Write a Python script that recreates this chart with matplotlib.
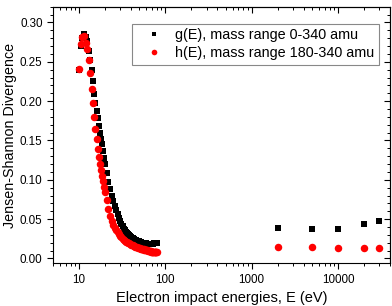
import matplotlib.pyplot as plt
import numpy as np

plt.rcParams['font.family'] = ['Liberation Sans', 'DejaVu Sans']

# electron energies (eV), low-energy scan
energy_low = [10, 10.5, 11, 11.5, 12, 12.5, 13, 13.5, 14, 14.5, 15, 15.5, 16, 16.5,
              17, 17.5, 18, 18.5, 19, 19.5, 20,
              21, 22, 23, 24, 25, 26, 27, 28, 29, 30, 31, 32, 33, 34, 35, 36, 37, 38, 39, 40,
              41, 42, 43, 44, 45, 46, 47, 48, 49, 50, 51, 52, 53, 54, 55, 56, 57, 58, 59, 60,
              61, 62, 63, 64, 65, 66, 67, 68, 69, 70, 71, 72, 73, 74, 75, 76, 77, 78, 79, 80]

# g(E), mass range 0-340 amu
g_low = [0.240, 0.270, 0.280, 0.285, 0.282, 0.276, 0.264, 0.252, 0.240, 0.226, 0.209,
         0.197, 0.188, 0.178, 0.168, 0.160, 0.152, 0.145, 0.136, 0.128, 0.120,
         0.108, 0.097, 0.088, 0.080, 0.073, 0.067, 0.061, 0.056, 0.051, 0.047,
         0.044, 0.041, 0.038, 0.036, 0.034, 0.0325, 0.031, 0.0297, 0.0285, 0.0275,
         0.0266, 0.0258, 0.0250, 0.0243, 0.0237, 0.0231, 0.0226, 0.0221, 0.0217, 0.0213,
         0.0209, 0.0206, 0.0203, 0.0200, 0.0198, 0.0196, 0.0194, 0.0192, 0.0191, 0.0190,
         0.0189, 0.0188, 0.0187, 0.0187, 0.0186, 0.0186, 0.0186, 0.0186, 0.0187, 0.0187,
         0.0188, 0.0188, 0.0189, 0.0190, 0.0191, 0.0192, 0.0193, 0.0194, 0.0195, 0.0196]

# h(E), mass range 180-340 amu
h_low = [0.241, 0.272, 0.281, 0.283, 0.274, 0.266, 0.252, 0.236, 0.216, 0.197, 0.180,
         0.164, 0.152, 0.139, 0.129, 0.120, 0.113, 0.105, 0.098, 0.091, 0.085,
         0.074, 0.063, 0.054, 0.048, 0.043, 0.039, 0.036, 0.033, 0.031, 0.029,
         0.027, 0.025, 0.024, 0.0225, 0.0215, 0.0205, 0.0197, 0.0190, 0.0183, 0.0176,
         0.0170, 0.0165, 0.0160, 0.0155, 0.0150, 0.0146, 0.0142, 0.0138, 0.0135, 0.0132,
         0.0129, 0.0126, 0.0123, 0.0120, 0.0117, 0.0114, 0.0112, 0.0110, 0.0108, 0.0106,
         0.0104, 0.0102, 0.0100, 0.0098, 0.0096, 0.0094, 0.0092, 0.0090, 0.0088, 0.0087,
         0.0085, 0.0084, 0.0083, 0.0082, 0.0081, 0.0080, 0.0079, 0.0078, 0.0077, 0.0076]

# high-energy points
energy_high = [2000, 5000, 10000, 20000, 30000]
g_high = [0.039, 0.038, 0.038, 0.044, 0.048]
h_high = [0.014, 0.0145, 0.0135, 0.013, 0.013]

energy = energy_low + energy_high
g_vals = g_low + g_high
h_vals = h_low + h_high

fig = plt.figure(figsize=(3.92, 3.06), dpi=100)
ax = fig.add_axes([0.135, 0.14, 0.86, 0.838])

ax.plot(energy, g_vals, 's', color='black', markersize=4.6, markeredgewidth=0,
        label='g(E), mass range 0-340 amu')
ax.plot(energy, h_vals, 'o', color='#ff0000', markersize=5.4, markeredgewidth=0,
        label='h(E), mass range 180-340 amu')

ax.set_xscale('log')
ax.set_xlim(5, 40000)
ax.set_ylim(-0.006, 0.32)
ax.set_yticks(np.arange(0, 0.31, 0.05))
ax.set_yticks(np.arange(0, 0.321, 0.01), minor=True)
ax.set_xticks([10, 100, 1000, 10000])
ax.set_xticklabels(['10', '100', '1000', '10000'])

ax.tick_params(which='major', direction='out', length=4, width=0.8, labelsize=8.4)
ax.tick_params(which='minor', direction='out', length=2.2, width=0.7)

# mirrored ticks on top/right pointing inward
top = ax.secondary_xaxis('top')
top.set_xticks([10, 100, 1000, 10000])
top.tick_params(which='major', direction='in', length=4, width=0.8, labeltop=False)
top.tick_params(which='minor', direction='in', length=2.2, width=0.7)
right = ax.secondary_yaxis('right')
right.set_yticks(np.arange(0, 0.31, 0.05))
right.set_yticks(np.arange(0, 0.321, 0.01), minor=True)
right.tick_params(which='major', direction='in', length=4, width=0.8, labelright=False)
right.tick_params(which='minor', direction='in', length=2.2, width=0.7)

for sp in ax.spines.values():
    sp.set_linewidth(0.8)

ax.set_xlabel('Electron impact energies, E (eV)', fontsize=10.5, labelpad=4)
ax.set_ylabel('Jensen-Shannon Divergence', fontsize=10.3, labelpad=2)

leg = ax.legend(loc='upper right', bbox_to_anchor=(0.967, 0.934), borderaxespad=0,
                fancybox=False, edgecolor='#888888', framealpha=1, fontsize=10.4,
                markerscale=0.75, handletextpad=0.3, handlelength=2.4,
                borderpad=0.3, labelspacing=0.3)
leg.get_frame().set_linewidth(0.8)

fig.savefig('out.png', dpi=100)
